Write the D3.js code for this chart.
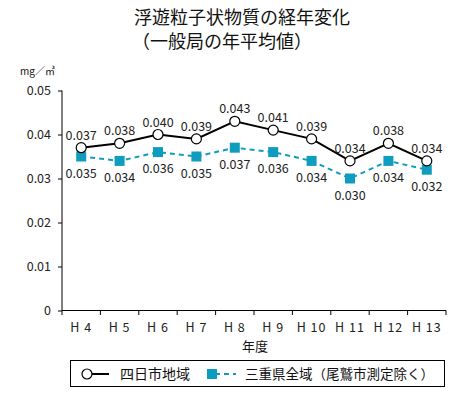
<!DOCTYPE html>
<html><head><meta charset="utf-8">
<script src="https://cdn.jsdelivr.net/npm/d3@7"></script>
<style>body{margin:0;background:#fff}svg{display:block}text{font-family:"Noto Sans CJK JP","Noto Sans",sans-serif}</style>
</head><body>
<svg id="c" width="453" height="394"></svg>
<script>
const years = ["H 4","H 5","H 6","H 7","H 8","H 9","H 10","H 11","H 12","H 13"];
const yokkaichi = [0.037,0.038,0.040,0.039,0.043,0.041,0.039,0.034,0.038,0.034];
const mie = [0.035,0.034,0.036,0.035,0.037,0.036,0.034,0.030,0.034,0.032];
const yTicks = [0,0.01,0.02,0.03,0.04,0.05];
const seriesNames = ["四日市地域","三重県全域（尾鷲市測定除く）"];
const blue = "#0f9dbf";

const svg = d3.select("#c");
const x = d3.scaleBand().domain(years).range([62,446]);
const y = d3.scaleLinear().domain([0,0.05]).range([310.5,90.5]);

svg.append("text").attr("x",242).attr("y",24).attr("text-anchor","middle").attr("font-size",18).attr("fill","#111").text("浮遊粒子状物質の経年変化");
svg.append("text").attr("x",222).attr("y",48).attr("text-anchor","middle").attr("font-size",18).attr("fill","#111").text("（一般局の年平均値）");
svg.append("text").attr("x",20).attr("y",75).attr("font-size",10).attr("fill","#111").text("mg／㎥");

const ya = svg.append("g").attr("transform","translate(62,0)").call(d3.axisLeft(y).tickValues(yTicks).tickSize(4).tickFormat(d=>d===0?"0":d3.format(".2f")(d)));
ya.selectAll("text").attr("font-size",12.5).attr("fill","#222").attr("x",-11).attr("font-family","Liberation Sans, Arial, sans-serif");
ya.select(".domain").attr("stroke","#000").attr("d","M0,90.5V310.5");
ya.selectAll("line").attr("stroke","#000");

const xa = svg.append("g").attr("transform","translate(0,310.5)").call(d3.axisBottom(x).tickSize(0).tickFormat(d=>d));
xa.select(".domain").attr("stroke","#000").attr("d","M62,0H446");
xa.selectAll("text").attr("font-size",12.5).attr("fill","#222").attr("dy",0).attr("y",21).attr("letter-spacing",1)
  .attr("font-family","Liberation Sans, Arial, sans-serif");
const edges = years.map(d=>x(d)).concat([x.range()[1]]);
svg.append("g").selectAll("line").data(edges).join("line")
  .attr("x1",d=>d).attr("x2",d=>d).attr("y1",310.5).attr("y2",315).attr("stroke","#000");

svg.append("text").attr("x",255).attr("y",351).attr("text-anchor","middle").attr("font-size",13).attr("fill","#111").text("年度");

const cx = d=>x(d)+x.bandwidth()/2;
const line = d3.line().x((d,i)=>cx(years[i])).y(d=>y(d));

svg.append("path").datum(mie).attr("d",line).attr("fill","none").attr("stroke",blue).attr("stroke-width",2).attr("stroke-dasharray","5,4");
svg.append("path").datum(yokkaichi).attr("d",line).attr("fill","none").attr("stroke","#000").attr("stroke-width",2);

svg.append("g").selectAll("rect").data(mie).join("rect")
  .attr("x",(d,i)=>cx(years[i])-5).attr("y",d=>y(d)-5).attr("width",10).attr("height",10).attr("fill",blue);
svg.append("g").selectAll("circle").data(yokkaichi).join("circle")
  .attr("cx",(d,i)=>cx(years[i])).attr("cy",d=>y(d)).attr("r",5).attr("fill","#fff").attr("stroke","#000").attr("stroke-width",1.2);

svg.append("g").selectAll("text").data(yokkaichi).join("text")
  .attr("x",(d,i)=>cx(years[i])).attr("y",d=>y(d)-8).attr("text-anchor","middle").attr("font-size",12.5).attr("fill","#222")
  .attr("font-family","Liberation Sans, Arial, sans-serif").text(d=>d3.format(".3f")(d));
svg.append("g").selectAll("text").data(mie).join("text")
  .attr("x",(d,i)=>cx(years[i])).attr("y",d=>y(d)+21).attr("text-anchor","middle").attr("font-size",12.5).attr("fill","#222")
  .attr("font-family","Liberation Sans, Arial, sans-serif").text(d=>d3.format(".3f")(d));

const lg = svg.append("g");
lg.append("rect").attr("x",70.5).attr("y",360.5).attr("width",374).attr("height",26).attr("fill","#fff").attr("stroke","#000").attr("stroke-width",1);
lg.append("line").attr("x1",86).attr("x2",109).attr("y1",374).attr("y2",374).attr("stroke","#000").attr("stroke-width",2);
lg.append("circle").attr("cx",87).attr("cy",374).attr("r",5).attr("fill","#fff").attr("stroke","#000").attr("stroke-width",1.2);
lg.append("text").attr("x",120).attr("y",379).attr("font-size",14).attr("fill","#111").text(seriesNames[0]);
lg.append("line").attr("x1",212).attr("x2",236).attr("y1",374).attr("y2",374).attr("stroke",blue).attr("stroke-width",2).attr("stroke-dasharray","5,4").attr("stroke-dashoffset",-3);
lg.append("rect").attr("x",207).attr("y",369).attr("width",10).attr("height",10).attr("fill",blue);
lg.append("text").attr("x",245).attr("y",379).attr("font-size",13.5).attr("fill","#111").text(seriesNames[1]);
</script>
</body></html>
